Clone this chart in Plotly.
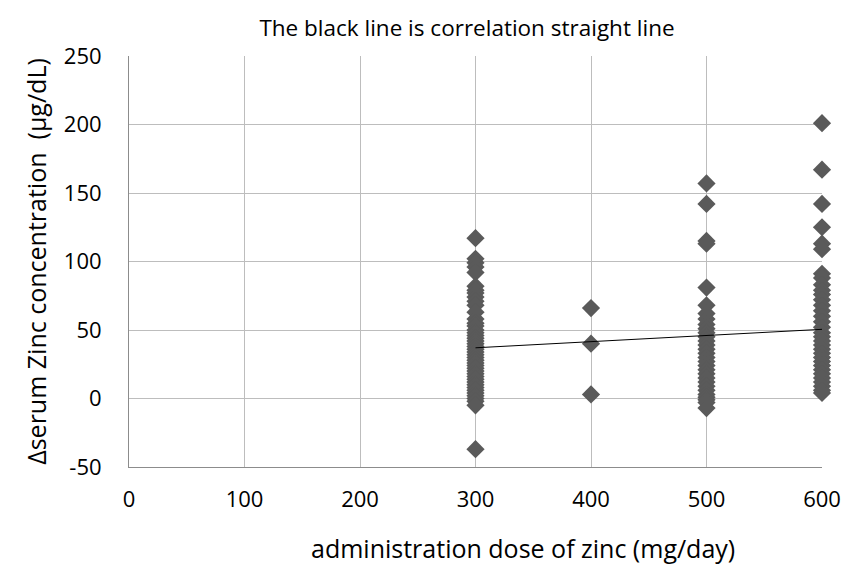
import plotly.graph_objects as go

# Data
dose_300 = [117, 102, 99, 96, 92, 82, 79, 77, 74, 71, 68, 63, 58, 55, 53, 50, 48, 46, 44, 42,
            40, 38, 36, 34, 32, 30, 28, 26, 24, 22, 20, 18, 16, 14, 12, 10, 8, 6, 4, 2, 0, -2, -5, -37]
dose_400 = [66, 40, 3]
dose_500 = [157, 142, 115, 113, 81, 68, 62, 58, 54, 51, 48, 45, 42, 39, 36, 33, 30, 27, 24, 21,
            18, 15, 12, 9, 6, 3, 1, -1, -3, -7]
dose_600 = [201, 167, 142, 125, 113, 109, 91, 88, 83, 79, 76, 72, 68, 64, 60, 56, 52, 48, 45, 42,
            39, 36, 33, 30, 27, 24, 21, 18, 15, 12, 9, 6, 4]
trend_x = [300, 600]
trend_y = [37, 50.5]

x_ticks = [0, 100, 200, 300, 400, 500, 600]
y_ticks = [-50, 0, 50, 100, 150, 200, 250]

xs, ys = [], []
for d, vals in [(300, dose_300), (400, dose_400), (500, dose_500), (600, dose_600)]:
    xs += [d] * len(vals)
    ys += vals

FONT = "Open Sans"

fig = go.Figure()
fig.add_trace(go.Scatter(
    x=xs, y=ys, mode="markers", cliponaxis=False,
    marker=dict(symbol="diamond", size=14, color="#5a5a5a", line=dict(width=0)),
    showlegend=False, hoverinfo="x+y",
))
fig.add_trace(go.Scatter(
    x=trend_x, y=trend_y, mode="lines", cliponaxis=False,
    line=dict(color="black", width=1), showlegend=False,
))

fig.update_layout(
    width=845, height=564,
    margin=dict(l=129, r=23, t=56, b=97),
    paper_bgcolor="white", plot_bgcolor="white",
    font=dict(family=FONT, color="black"),
    title=dict(text="The black line is correlation straight line", x=467 / 845, xanchor="center",
               y=1 - 28 / 564, yanchor="middle", font=dict(size=22.5, family=FONT, color="black")),
    xaxis=dict(
        range=[0, 600], tickvals=x_ticks, ticktext=[str(v) for v in x_ticks],
        showgrid=True, gridcolor="#bdbdbd", gridwidth=1, automargin=False,
        showline=True, linecolor="#8c8c8c", linewidth=1,
        zeroline=False, ticks="outside", ticklen=13, tickcolor="rgba(0,0,0,0)",
        tickfont=dict(size=22, family=FONT, color="black"),
    ),
    yaxis=dict(
        range=[-50, 250], tickvals=y_ticks, ticktext=[str(v) for v in y_ticks],
        showgrid=True, gridcolor="#bdbdbd", gridwidth=1, automargin=False,
        showline=True, linecolor="#8c8c8c", linewidth=1,
        zeroline=False, ticks="outside", ticklen=22, tickcolor="rgba(0,0,0,0)",
        tickfont=dict(size=22, family=FONT, color="black"),
        title=dict(text="Δserum Zinc concentration  (μg/dL)", standoff=10,
                   font=dict(size=25, family=FONT, color="black")),
    ),
    annotations=[dict(
        text="administration dose of zinc (mg/day)", xref="paper", yref="paper",
        x=(523 - 129) / 693, y=-(548 - 467) / 411, xanchor="center", yanchor="middle",
        showarrow=False, font=dict(size=25, family=FONT, color="black"),
    )],
)

fig.write_html("out.html")
